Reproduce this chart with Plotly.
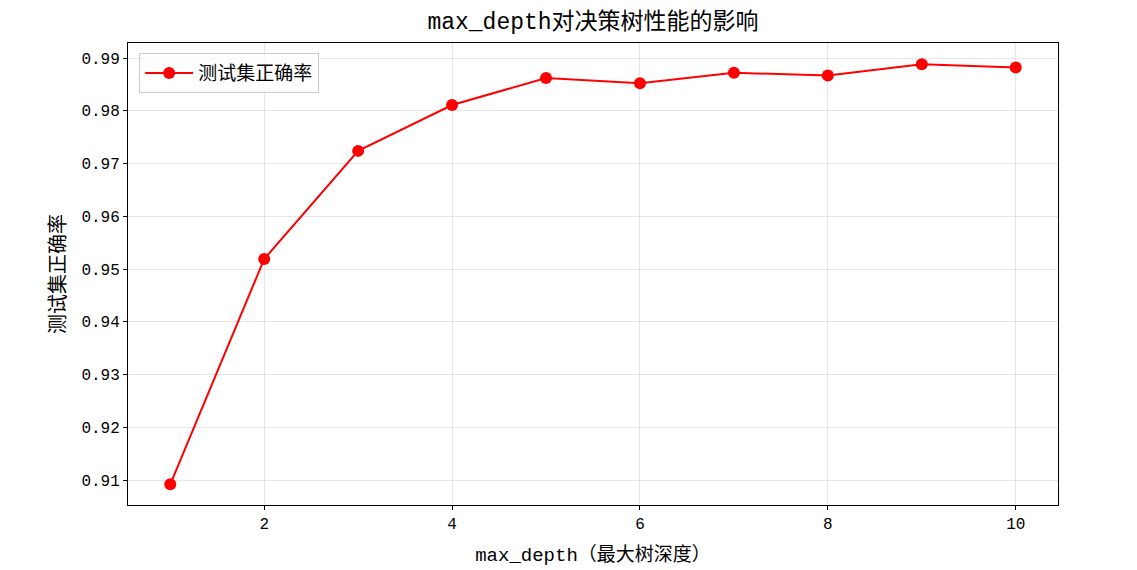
import plotly.graph_objects as go

max_depth = [1, 2, 3, 4, 5, 6, 7, 8, 9, 10]
test_accuracy = [0.9092, 0.9519, 0.9724, 0.9811, 0.9862, 0.9852, 0.9872, 0.9867, 0.9888, 0.9882]
x_ticks = [2, 4, 6, 8, 10]
y_ticks = [0.91, 0.92, 0.93, 0.94, 0.95, 0.96, 0.97, 0.98, 0.99]

FONT = "Liberation Mono, Noto Sans CJK SC, sans-serif"
CJK = "Noto Sans CJK SC, sans-serif"

fig = go.Figure()
fig.add_trace(go.Scatter(
    x=max_depth, y=test_accuracy, mode="lines+markers", name="测试集正确率",
    line=dict(color="#ff0000", width=2),
    marker=dict(color="#ff0000", size=12),
))

fig.update_layout(
    width=1137, height=570,
    margin=dict(l=120, r=87, t=35, b=73),
    paper_bgcolor="white", plot_bgcolor="white",
    font=dict(family=FONT, color="black", size=16),
    title=dict(text="max_depth对决策树性能的影响", x=(593 - 8) / 1137, xanchor="center",
               y=1 - 13 / 570, yanchor="middle", font=dict(size=23, family=FONT)),
    showlegend=True,
    legend=dict(x=0.012, y=0.978, xanchor="left", yanchor="top", itemwidth=48,
                bordercolor="#cccccc", borderwidth=1, bgcolor="rgba(255,255,255,0.8)",
                font=dict(size=19, family=CJK)),
    xaxis=dict(range=[0.55, 10.45], tickvals=x_ticks, ticktext=[str(v) for v in x_ticks],
               showgrid=True, gridcolor="rgba(176,176,176,0.3)", gridwidth=1,
               showline=True, linecolor="black", linewidth=1, mirror=True,
               ticks="outside", ticklen=4, tickcolor="black", zeroline=False,
               tickfont=dict(size=16),
               title=dict(text="max_depth（最大树深度）", standoff=14, font=dict(size=19))),
    yaxis=dict(range=[0.90527, 0.99285], tickvals=y_ticks, ticktext=[f"{v:.2f}" for v in y_ticks],
               showgrid=True, gridcolor="rgba(176,176,176,0.3)", gridwidth=1,
               showline=True, linecolor="black", linewidth=1, mirror=True,
               ticks="outside", ticklen=4, tickcolor="black", zeroline=False,
               tickfont=dict(size=16),
               title=dict(text="测试集正确率", standoff=10, font=dict(size=20, family=CJK))),
)

fig.write_html("out.html")
